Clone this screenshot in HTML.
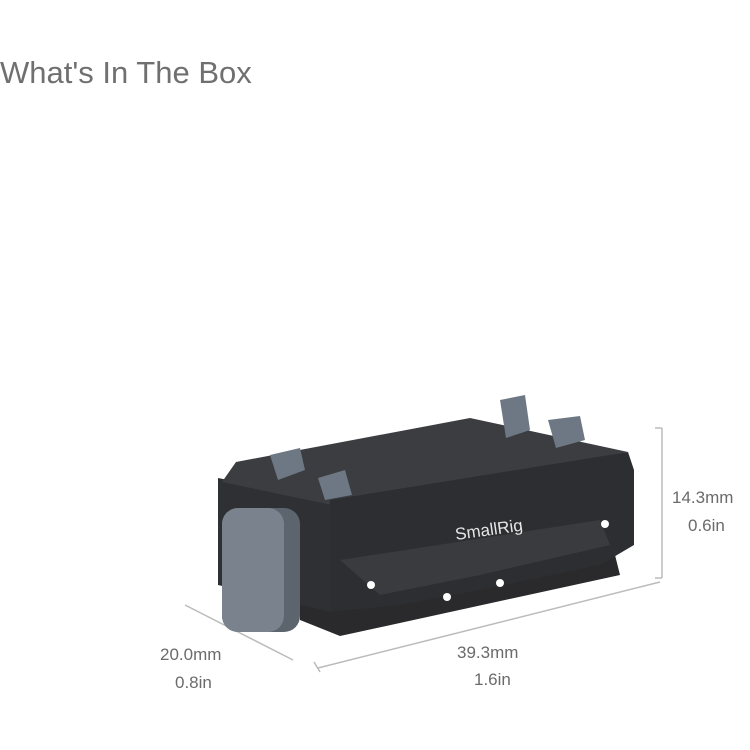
<!DOCTYPE html>
<html><head><style>
body{margin:0;width:750px;height:750px;background:#fff;overflow:hidden;font-family:"Liberation Sans",sans-serif;}
.t{position:absolute;color:#6b6b6b;}
</style></head><body>
<div class="t" style="left:0;top:55px;font-size:31px;color:#707070;">What's In The Box</div>
<svg width="750" height="750" style="position:absolute;left:0;top:0">
<g stroke="#bbb" stroke-width="1.5" fill="none">
<line x1="662" y1="428" x2="662" y2="578"/>
<line x1="655" y1="428" x2="662" y2="428"/>
<line x1="655" y1="578" x2="662" y2="578"/>
<line x1="318" y1="668" x2="660" y2="582"/>
<line x1="314" y1="662" x2="320" y2="672"/>
<line x1="185" y1="605" x2="293" y2="660"/>
</g>
<polygon points="300,592 615,555 620,575 340,636 300,620" fill="#2a2a2c"/>
<polygon points="218,478 330,500 330,612 218,585" fill="#2f3033"/>
<polygon points="236,462 470,418 628,452 332,505 222,482" fill="#3c3d40"/>
<polygon points="330,500 628,452 634,470 634,545 600,565 480,590 400,605 330,612" fill="#2d2e31"/>
<polygon points="340,560 600,520 610,545 480,575 380,595" fill="#3a3b3e"/>
<g fill="#6e7884">
<polygon points="270,455 300,448 305,470 278,480"/>
<polygon points="318,478 345,470 352,495 325,500"/>
<polygon points="500,400 525,395 530,430 506,438"/>
<polygon points="548,420 580,416 585,440 556,448"/>
</g>
<rect x="222" y="508" width="78" height="124" rx="16" fill="#5c646e"/>
<rect x="222" y="508" width="62" height="124" rx="16" fill="#7a838d"/>
<g fill="#fff"><circle cx="371" cy="585" r="4"/><circle cx="447" cy="597" r="4"/><circle cx="500" cy="583" r="4"/><circle cx="605" cy="524" r="4"/></g>
<text x="456" y="540" fill="#e6e6e6" font-size="17" font-family="Liberation Sans" transform="rotate(-8 456 540)">SmallRig</text>
</svg>
<div class="t" style="left:672px;top:488px;font-size:17px;">14.3mm</div>
<div class="t" style="left:688px;top:516px;font-size:17px;">0.6in</div>
<div class="t" style="left:160px;top:645px;font-size:17px;">20.0mm</div>
<div class="t" style="left:175px;top:673px;font-size:17px;">0.8in</div>
<div class="t" style="left:457px;top:643px;font-size:17px;">39.3mm</div>
<div class="t" style="left:474px;top:670px;font-size:17px;">1.6in</div>
</body></html>
